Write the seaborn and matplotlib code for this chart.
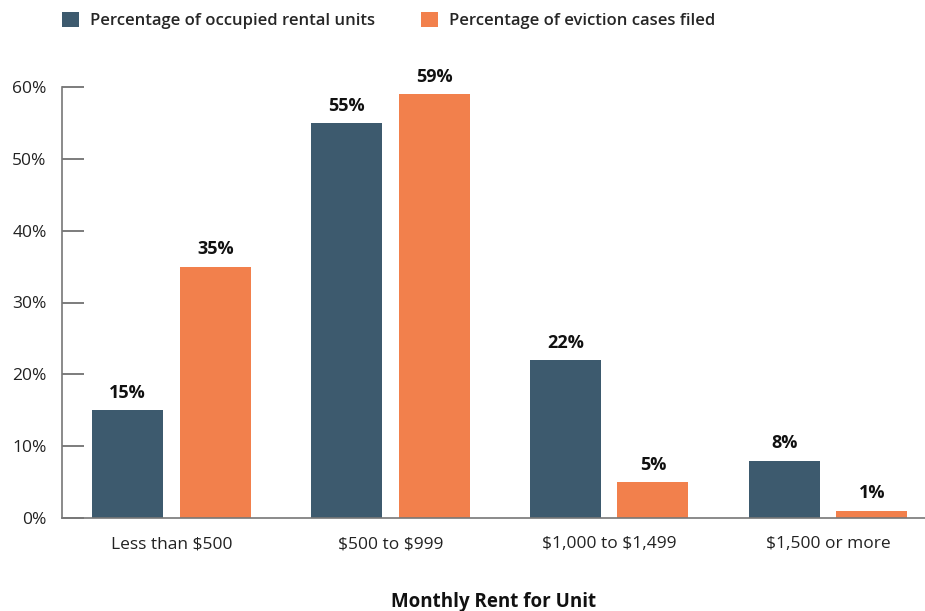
import matplotlib
matplotlib.use("Agg")
import matplotlib.pyplot as plt
from matplotlib.patches import Patch
import seaborn as sns
import pandas as pd

categories = ["Less than $500", "$500 to $999", "$1,000 to $1,499", "$1,500 or more"]
occupied_pct = [15, 55, 22, 8]
eviction_pct = [35, 59, 5, 1]
series_names = ["Percentage of occupied rental units", "Percentage of eviction cases filed"]
y_ticks = [0, 10, 20, 30, 40, 50, 60]

colors = ["#3d5a6e", "#f2804c"]

sns.set_theme(style="white")
plt.rcParams["font.family"] = ["Open Sans", "DejaVu Sans"]
plt.rcParams["text.parse_math"] = False

df = pd.DataFrame({
    "rent": categories * 2,
    "pct": occupied_pct + eviction_pct,
    "series": [series_names[0]] * len(categories) + [series_names[1]] * len(categories),
})

fig = plt.figure(figsize=(9.25, 6.11), dpi=100)
ax = fig.add_axes([62 / 925, 1 - 518 / 611, 1 - 62 / 925, (518 - 87) / 611])

sns.barplot(data=df, x="rent", y="pct", hue="series", hue_order=series_names,
            palette=colors, width=0.8, gap=0.19, saturation=1, linewidth=0,
            legend=False, ax=ax, errorbar=None)

for cont in ax.containers:
    vals = [p.get_height() for p in cont]
    ax.bar_label(cont, labels=[f"{v:.0f}%" for v in vals], padding=6,
                 fontsize=13, fontweight="bold", color="#111111")

ax.set_xlim(-0.5, 3.443)
ax.set_ylim(0, 60)
ax.set_yticks(y_ticks)
ax.set_yticklabels([f"{t}%" for t in y_ticks])
ax.tick_params(axis="y", direction="in", length=15.5, width=1.2, color="#666666",
               pad=11, labelsize=12.5, labelcolor="#222222", left=True)
ax.tick_params(axis="x", length=0, pad=13, labelsize=12.5, labelcolor="#222222")

for side in ["top", "right"]:
    ax.spines[side].set_visible(False)
for side in ["left", "bottom"]:
    ax.spines[side].set_color("#777777")
    ax.spines[side].set_linewidth(1.2)

ax.set_ylabel("")
ax.set_xlabel("Monthly Rent for Unit", fontsize=13.5, fontweight="bold", color="#111111", labelpad=29)

handles = [Patch(facecolor=c, edgecolor="none") for c in colors]
fig.legend(handles, series_names, loc="upper left", bbox_to_anchor=(47 / 925, 1.005),
           ncol=2, frameon=False, handlelength=1.0, handleheight=1.0, handletextpad=0.65,
           columnspacing=2.8, prop={"size": 12, "weight": "semibold"})

fig.savefig("out.png", dpi=100)
